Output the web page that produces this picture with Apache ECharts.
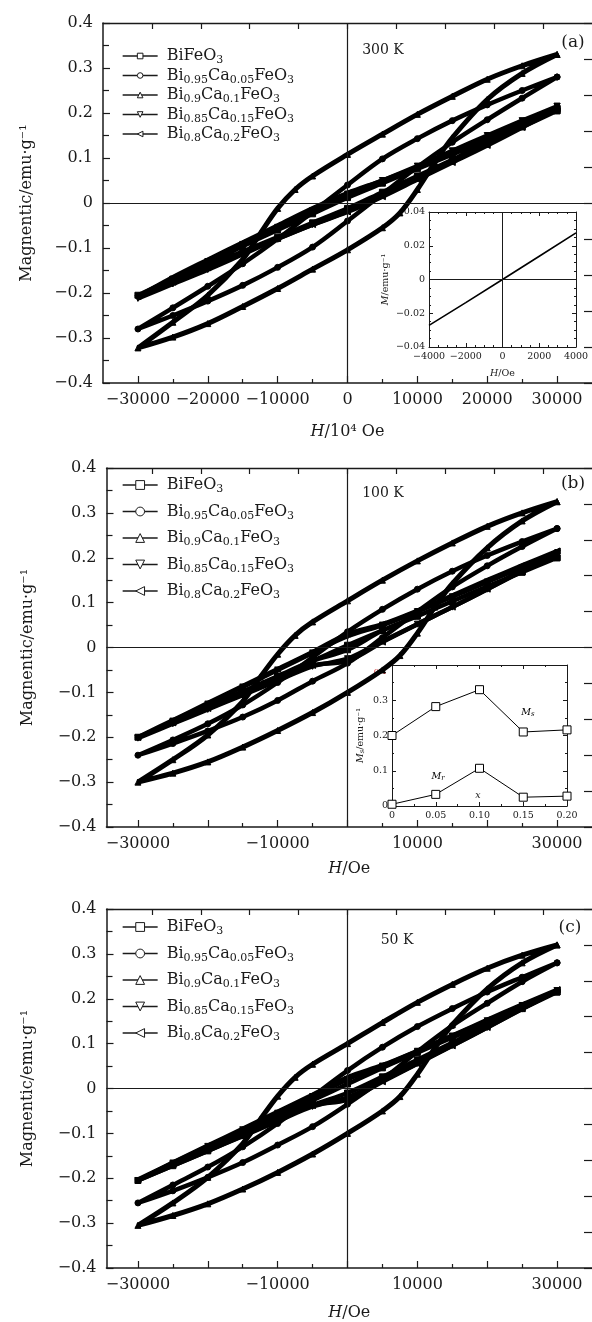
<!DOCTYPE html>
<html><head><meta charset="utf-8">
<script src="https://cdn.jsdelivr.net/npm/echarts@6/dist/echarts.min.js"></script>
<style>html,body{margin:0;padding:0;background:#fff}#c{width:592px;height:1322px}</style>
</head><body><div id="c"></div>
<script>
// ---------- field grids ----------
const H_STD_DOWN = [30000,25000,20000,15000,10000,5000,0,-5000,-10000,-15000,-20000,-25000,-30000];
const H_STD_UP   = [-30000,-25000,-20000,-15000,-10000,-5000,0,5000,10000,15000,20000,25000,30000];
const H_WIDE_DOWN = [30000,25000,20000,15000,10000,5000,0,-5000,-7500,-10000,-12500,-15000,-20000,-25000,-30000];
const H_WIDE_UP   = [-30000,-25000,-20000,-15000,-10000,-5000,0,5000,7500,10000,12500,15000,20000,25000,30000];

// ---------- panel (a) 300 K ----------
const A_BFO_DOWN = [0.205,0.173,0.141,0.108,0.076,0.044,0.012,-0.024,-0.060,-0.096,-0.133,-0.169,-0.205];
const A_BFO_UP   = [-0.205,-0.173,-0.141,-0.108,-0.076,-0.044,-0.012,0.024,0.060,0.096,0.133,0.169,0.205];
const A_C05_DOWN = [0.280,0.250,0.218,0.183,0.143,0.098,0.040,-0.020,-0.080,-0.135,-0.185,-0.233,-0.280];
const A_C05_UP   = [-0.280,-0.250,-0.218,-0.183,-0.143,-0.098,-0.040,0.020,0.080,0.135,0.185,0.233,0.280];
const A_C10_DOWN = [0.330,0.305,0.275,0.237,0.197,0.153,0.108,0.060,0.030,-0.012,-0.068,-0.125,-0.205,-0.265,-0.322];
const A_C10_UP   = [-0.322,-0.298,-0.268,-0.230,-0.190,-0.147,-0.104,-0.055,-0.022,0.030,0.090,0.145,0.230,0.288,0.330];
const A_C15_DOWN = [0.215,0.183,0.150,0.116,0.082,0.050,0.020,-0.017,-0.054,-0.092,-0.130,-0.170,-0.212];
const A_C15_UP   = [-0.212,-0.180,-0.148,-0.114,-0.080,-0.048,-0.018,0.017,0.054,0.092,0.130,0.172,0.215];
const A_C20_DOWN = [0.210,0.178,0.146,0.113,0.080,0.050,0.022,-0.012,-0.050,-0.088,-0.126,-0.165,-0.208];
const A_C20_UP   = [-0.208,-0.176,-0.144,-0.111,-0.079,-0.048,-0.020,0.014,0.052,0.090,0.128,0.168,0.210];

// ---------- panel (b) 100 K ----------
const B_BFO_DOWN = [0.200,0.168,0.136,0.103,0.070,0.038,0.005,-0.030,-0.064,-0.098,-0.132,-0.166,-0.200];
const B_BFO_UP   = [-0.200,-0.166,-0.132,-0.098,-0.064,-0.030,-0.005,0.038,0.070,0.103,0.136,0.168,0.200];
const B_C05_DOWN = [0.265,0.236,0.205,0.170,0.130,0.085,0.035,-0.022,-0.078,-0.128,-0.170,-0.206,-0.240];
const B_C05_UP   = [-0.240,-0.214,-0.186,-0.155,-0.118,-0.075,-0.035,0.022,0.080,0.135,0.182,0.225,0.265];
const B_C10_DOWN = [0.325,0.300,0.270,0.233,0.193,0.150,0.104,0.057,0.027,-0.015,-0.066,-0.120,-0.195,-0.250,-0.300];
const B_C10_UP   = [-0.300,-0.280,-0.255,-0.222,-0.185,-0.145,-0.100,-0.050,-0.018,0.032,0.090,0.142,0.222,0.282,0.325];
const B_C15_DOWN = [0.210,0.178,0.146,0.113,0.080,0.050,0.025,-0.012,-0.050,-0.088,-0.126,-0.164,-0.202];
const B_C15_UP   = [-0.202,-0.170,-0.138,-0.106,-0.074,-0.042,-0.025,0.014,0.052,0.090,0.130,0.170,0.210];
const B_C20_DOWN = [0.215,0.183,0.150,0.116,0.082,0.052,0.030,-0.010,-0.048,-0.086,-0.124,-0.162,-0.200];
const B_C20_UP   = [-0.200,-0.168,-0.136,-0.104,-0.072,-0.040,-0.030,0.012,0.052,0.090,0.130,0.172,0.215];

// ---------- panel (c) 50 K ----------
const C_BFO_DOWN = [0.215,0.182,0.148,0.114,0.080,0.046,0.010,-0.026,-0.062,-0.098,-0.133,-0.169,-0.205];
const C_BFO_UP   = [-0.205,-0.172,-0.139,-0.105,-0.071,-0.037,-0.010,0.026,0.064,0.102,0.140,0.178,0.215];
const C_C05_DOWN = [0.280,0.248,0.215,0.178,0.138,0.092,0.040,-0.018,-0.078,-0.130,-0.175,-0.215,-0.255];
const C_C05_UP   = [-0.255,-0.228,-0.198,-0.165,-0.126,-0.085,-0.035,0.020,0.082,0.140,0.190,0.238,0.280];
const C_C10_DOWN = [0.320,0.297,0.268,0.232,0.192,0.147,0.100,0.054,0.025,-0.017,-0.069,-0.123,-0.198,-0.255,-0.305];
const C_C10_UP   = [-0.305,-0.283,-0.257,-0.224,-0.187,-0.146,-0.100,-0.050,-0.018,0.032,0.090,0.142,0.222,0.280,0.320];
const C_C15_DOWN = [0.218,0.185,0.151,0.117,0.083,0.050,0.020,-0.018,-0.055,-0.092,-0.129,-0.166,-0.205];
const C_C15_UP   = [-0.205,-0.172,-0.139,-0.106,-0.073,-0.040,-0.020,0.018,0.056,0.096,0.136,0.177,0.218];
const C_C20_DOWN = [0.220,0.187,0.153,0.118,0.084,0.052,0.025,-0.014,-0.052,-0.090,-0.127,-0.165,-0.203];
const C_C20_UP   = [-0.203,-0.170,-0.137,-0.104,-0.071,-0.038,-0.025,0.015,0.055,0.095,0.136,0.178,0.220];

// ---------- insets ----------
const INSET_A_H = [-4000,-2000,0,2000,4000];
const INSET_A_M = [-0.0272,-0.0137,0,0.0138,0.0276];
const INSET_B_X  = [0,0.05,0.10,0.15,0.20];
const INSET_B_MS = [0.200,0.282,0.330,0.210,0.216];
const INSET_B_MR = [0.005,0.033,0.107,0.025,0.028];

// ---------- labels ----------
const SAMPLE_NAMES = ['BiFeO3','Bi0.95Ca0.05FeO3','Bi0.9Ca0.1FeO3','Bi0.85Ca0.15FeO3','Bi0.8Ca0.2FeO3'];
const PANEL_TAGS = ['(a)','(b)','(c)'];
const PANEL_TEMPS = ['300 K','100 K','50 K'];
const MAIN_X_LABELS = [[-30000,-20000,-10000,0,10000,20000,30000],[-30000,-10000,10000,30000],[-30000,-10000,10000,30000]];
const MAIN_X_MAJOR = [-30000,-20000,-10000,0,10000,20000,30000];
const MAIN_X_MINOR = [-25000,-15000,-5000,5000,15000,25000];
const TOP_X_TICKS = [-28000,-21000,-14000,-7000,0,7000,14000,21000,28000];

const SERIF = 'DejaVu Serif';
const INK = '#1a1a1a';
const SYMBOLS = ['rect','circle','triangle','triangle','triangle'];
const ROTS = [0,0,0,180,90];

const PANELS = [
  {key:'a', data:[[A_BFO_DOWN,A_BFO_UP],[A_C05_DOWN,A_C05_UP],[A_C10_DOWN,A_C10_UP],[A_C15_DOWN,A_C15_UP],[A_C20_DOWN,A_C20_UP]],
   grid:{left:103,top:23,width:490,height:360}, xmin:-35000, xname:'{i|H}{r|/10⁴ Oe}', legTop:48, legGap:1.5, legH:7, nameGap:41, yGap:68,
   tag:[573,43], temp:[383,50]},
  {key:'b', data:[[B_BFO_DOWN,B_BFO_UP],[B_C05_DOWN,B_C05_UP],[B_C10_DOWN,B_C10_UP],[B_C15_DOWN,B_C15_UP],[B_C20_DOWN,B_C20_UP]],
   grid:{left:106.5,top:468,width:486.5,height:359}, xmin:-34500, xname:'{i|H}{r|/Oe}', legTop:477, legGap:8.5, legH:11, nameGap:34, yGap:71,
   tag:[573,484], temp:[383,493]},
  {key:'c', data:[[C_BFO_DOWN,C_BFO_UP],[C_C05_DOWN,C_C05_UP],[C_C10_DOWN,C_C10_UP],[C_C15_DOWN,C_C15_UP],[C_C20_DOWN,C_C20_UP]],
   grid:{left:106.5,top:909,width:486.5,height:364}, xmin:-34500, xname:'{i|H}{r|/Oe}', legTop:919, legGap:8.5, legH:11, nameGap:37, yGap:71,
   tag:[570,928], temp:[397,940]}
];

function toRich(s){ return s.replace(/([A-Za-z]+)([0-9.]+)/g,'{r|$1}{s|$2}'); }
function fmtSigned(v, d){ if (Math.abs(v) < 1e-9) return '0'; const t = d==null ? String(Math.abs(v)) : Math.abs(v).toFixed(d); return v<0 ? '−'+t : t; }
function pairs(hs, ms){ return hs.map((h,i)=>[h, ms[i]]); }

const richLegend = {
  r:{fontFamily:SERIF,fontSize:16,color:INK,lineHeight:20,verticalAlign:'middle'},
  s:{fontFamily:SERIF,fontSize:11,color:INK,lineHeight:12,verticalAlign:'bottom'}
};
const richName = {
  i:{fontFamily:SERIF,fontSize:16,fontStyle:'italic',color:INK},
  r:{fontFamily:SERIF,fontSize:16,color:INK}
};

const grids=[], xAxes=[], yAxes=[], series=[], legends=[], graphics=[];

PANELS.forEach((p, pi) => {
  grids.push(p.grid);
  const gi = pi;
  const xmax = 35000;
  xAxes.push({type:'value', gridIndex:gi, position:'bottom', min:p.xmin, max:xmax,
    axisLine:{show:true, onZero:false, lineStyle:{color:INK,width:1.6}},
    axisTick:{show:true, inside:true, length:7, customValues:MAIN_X_MAJOR, lineStyle:{color:INK,width:1.2}},
    axisLabel:{show:true, customValues:MAIN_X_LABELS[pi], formatter:v=>fmtSigned(v), fontFamily:SERIF, fontSize:16, color:INK, margin:9},
    splitLine:{show:false},
    name:p.xname, nameLocation:'middle', nameGap:p.nameGap, nameTextStyle:{rich:richName}});
  xAxes.push({type:'value', gridIndex:gi, position:'bottom', min:p.xmin, max:xmax,
    axisLine:{show:false, onZero:false}, axisLabel:{show:false}, splitLine:{show:false},
    axisTick:{show:true, inside:true, length:4, customValues:MAIN_X_MINOR, lineStyle:{color:INK,width:1.2}}});
  xAxes.push({type:'value', gridIndex:gi, position:'top', min:p.xmin, max:xmax,
    axisLine:{show:true, onZero:false, lineStyle:{color:INK,width:1.3}}, axisLabel:{show:false}, splitLine:{show:false},
    axisTick:{show:true, inside:true, length:6, customValues:TOP_X_TICKS, lineStyle:{color:INK,width:1.2}}});
  yAxes.push({type:'value', gridIndex:gi, position:'left', min:-0.4, max:0.4, interval:0.1,
    axisLine:{show:true, onZero:false, lineStyle:{color:INK,width:1.5}},
    axisTick:{show:true, inside:true, length:7, lineStyle:{color:INK,width:1.2}},
    minorTick:{show:true, splitNumber:2, length:6, lineStyle:{color:INK,width:1.2}},
    axisLabel:{formatter:v=>fmtSigned(v,1), fontFamily:SERIF, fontSize:16, color:INK, margin:10},
    splitLine:{show:false},
    name:'Magnentic/emu·g⁻¹', nameLocation:'middle', nameGap:p.yGap, nameRotate:90,
    nameTextStyle:{fontFamily:SERIF, fontSize:16, color:INK}});
  yAxes.push({type:'value', gridIndex:gi, position:'right', min:-0.4, max:0.4, interval:0.08,
    axisLine:{show:false, onZero:false}, axisLabel:{show:false}, splitLine:{show:false},
    axisTick:{show:true, inside:true, length:8, lineStyle:{color:INK,width:1.2}}});

  const xi = pi*3, yi = pi*2;
  p.data.forEach((pair, si) => {
    const wide = si === 2;
    const hd = wide ? H_WIDE_DOWN : H_STD_DOWN;
    const hu = wide ? H_WIDE_UP : H_STD_UP;
    const pts = pairs(hd, pair[0]).concat(pairs(hu, pair[1]).slice(1));
    const s = {type:'line', name:p.key+si, xAxisIndex:xi, yAxisIndex:yi, data:pts,
      smooth:0.35, symbol:SYMBOLS[si], symbolRotate:ROTS[si], symbolSize:6, showAllSymbol:true,
      lineStyle:{color:'#000', width:wide?5:4.5}, itemStyle:{color:'#000', borderColor:'#000', borderWidth:1},
      animation:false, silent:true, z:3};
    if (si === 0) {
      s.markLine = {silent:true, symbol:['none','none'], label:{show:false}, animation:false,
        lineStyle:{color:INK, width:1.2, type:'solid'}, data:[{xAxis:0},{yAxis:0}]};
    }
    series.push(s);
  });

  legends.push({orient:'vertical', left:122, top:p.legTop, padding:0, itemGap:p.legGap,
    itemWidth:35, itemHeight:p.legH, selectedMode:false,
    data:SAMPLE_NAMES.map((n,si)=>({name:p.key+si})),
    formatter:name=>toRich(SAMPLE_NAMES[+name.slice(1)]),
    lineStyle:{color:INK, width:1.3},
    itemStyle:{color:'#fff', borderColor:INK, borderWidth:1},
    textStyle:{rich:richLegend, padding:[0,0,0,4]}});

  graphics.push({type:'text', x:p.tag[0], y:p.tag[1], style:{text:PANEL_TAGS[pi], font:'17px "DejaVu Serif"', fill:INK, textAlign:'center', textVerticalAlign:'middle'}});
  graphics.push({type:'text', x:p.temp[0], y:p.temp[1], style:{text:PANEL_TEMPS[pi], font:'14px "DejaVu Serif"', fill:INK, textAlign:'center', textVerticalAlign:'middle'}});
});

// ---------- inset (a) ----------
grids.push({left:429, top:212, width:147, height:135, show:true, backgroundColor:'#fff', borderWidth:0});
const richSmall = {
  i:{fontFamily:SERIF,fontSize:9.5,fontStyle:'italic',color:INK},
  r:{fontFamily:SERIF,fontSize:9.5,color:INK},
  s:{fontFamily:SERIF,fontSize:7,fontStyle:'italic',color:INK,verticalAlign:'bottom',lineHeight:8}
};
const giA = 3, giB = 4;
const smallTick = {inside:true,length:4,lineStyle:{color:INK}};
xAxes.push({type:'value', gridIndex:giA, position:'bottom', min:-4000, max:4000, interval:2000,
  axisLine:{show:true,onZero:false,lineStyle:{color:INK,width:1}}, axisTick:smallTick,
  minorTick:{show:true,splitNumber:4,length:2,lineStyle:{color:INK}},
  axisLabel:{formatter:v=>fmtSigned(v), fontFamily:SERIF, fontSize:9.5, color:INK, margin:5}, splitLine:{show:false},
  name:'{i|H}{r|/Oe}', nameLocation:'middle', nameGap:22, nameTextStyle:{rich:richSmall}});
xAxes.push({type:'value', gridIndex:giA, position:'top', min:-4000, max:4000, interval:2000,
  axisLine:{show:true,onZero:false,lineStyle:{color:INK,width:1}}, axisTick:smallTick,
  minorTick:{show:true,splitNumber:4,length:2,lineStyle:{color:INK}}, axisLabel:{show:false}, splitLine:{show:false}});
yAxes.push({type:'value', gridIndex:giA, position:'left', min:-0.04, max:0.04, interval:0.02,
  axisLine:{show:true,onZero:false,lineStyle:{color:INK,width:1}}, axisTick:smallTick,
  minorTick:{show:true,splitNumber:4,length:2,lineStyle:{color:INK}},
  axisLabel:{formatter:v=>fmtSigned(v,2), fontFamily:SERIF, fontSize:9.5, color:INK, margin:4}, splitLine:{show:false},
  name:'{i|M}{r|/emu·g⁻¹}', nameLocation:'middle', nameGap:38, nameRotate:90, nameTextStyle:{rich:richSmall}});
yAxes.push({type:'value', gridIndex:giA, position:'right', min:-0.04, max:0.04, interval:0.02,
  axisLine:{show:true,onZero:false,lineStyle:{color:INK,width:1}}, axisTick:smallTick,
  minorTick:{show:true,splitNumber:4,length:2,lineStyle:{color:INK}}, axisLabel:{show:false}, splitLine:{show:false}});
series.push({type:'line', xAxisIndex:9, yAxisIndex:6, data:pairs(INSET_A_H, INSET_A_M), symbol:'none',
  lineStyle:{color:'#000',width:1.6}, animation:false, silent:true, z:4,
  markLine:{silent:true, symbol:['none','none'], label:{show:false}, animation:false,
    lineStyle:{color:INK,width:1,type:'solid'}, data:[{xAxis:0},{yAxis:0}]}});

// ---------- inset (b) ----------
grids.push({left:392, top:665, width:175, height:141, show:true, backgroundColor:'#fff', borderWidth:0});
xAxes.push({type:'value', gridIndex:giB, position:'bottom', min:0, max:0.2, interval:0.05,
  axisLine:{show:true,onZero:false,lineStyle:{color:INK,width:1}}, axisTick:smallTick,
  minorTick:{show:true,splitNumber:2,length:2,lineStyle:{color:INK}},
  axisLabel:{formatter:v=>Math.abs(v)<1e-9?'0':v.toFixed(2), fontFamily:SERIF, fontSize:9.5, color:INK, margin:5}, splitLine:{show:false}});
xAxes.push({type:'value', gridIndex:giB, position:'top', min:0, max:0.2, interval:0.05,
  axisLine:{show:true,onZero:false,lineStyle:{color:INK,width:1}}, axisTick:smallTick,
  minorTick:{show:true,splitNumber:2,length:2,lineStyle:{color:INK}}, axisLabel:{show:false}, splitLine:{show:false}});
yAxes.push({type:'value', gridIndex:giB, position:'left', min:0, max:0.4, interval:0.1,
  axisLine:{show:true,onZero:false,lineStyle:{color:INK,width:1}}, axisTick:smallTick,
  minorTick:{show:true,splitNumber:2,length:2,lineStyle:{color:INK}},
  axisLabel:{formatter:v=>Math.abs(v)<1e-9?'0':(v>0.35?'':v.toFixed(1)), fontFamily:SERIF, fontSize:9.5, color:INK, margin:4}, splitLine:{show:false},
  name:'{i|M}{s|s}{r|/emu·g⁻¹}', nameLocation:'middle', nameGap:26, nameRotate:90, nameTextStyle:{rich:richSmall}});
yAxes.push({type:'value', gridIndex:giB, position:'right', min:0, max:0.4, interval:0.1,
  axisLine:{show:true,onZero:false,lineStyle:{color:INK,width:1}}, axisTick:smallTick,
  minorTick:{show:true,splitNumber:2,length:2,lineStyle:{color:INK}}, axisLabel:{show:false}, splitLine:{show:false}});
[INSET_B_MS, INSET_B_MR].forEach(arr => series.push({type:'line', xAxisIndex:11, yAxisIndex:8, data:pairs(INSET_B_X, arr),
  symbol:'rect', symbolSize:8, lineStyle:{color:'#000',width:1}, itemStyle:{color:'#fff',borderColor:'#000',borderWidth:1},
  animation:false, silent:true, z:4, clip:false}));
graphics.push({type:'text', x:528, y:713, style:{rich:richSmall, text:'{i|M}{s|s}', textAlign:'center', textVerticalAlign:'middle'}});
graphics.push({type:'text', x:438, y:777, style:{rich:richSmall, text:'{i|M}{s|r}', textAlign:'center', textVerticalAlign:'middle'}});
graphics.push({type:'text', x:478, y:796, style:{text:'x', font:'italic 9.5px "DejaVu Serif"', fill:INK, textAlign:'center', textVerticalAlign:'middle'}});
graphics.push({type:'text', x:380, y:672, style:{text:'0.4', font:'8px "DejaVu Serif"', fill:'#d03030', textAlign:'center', textVerticalAlign:'middle'}});

const chart = echarts.init(document.getElementById('c'), null, {renderer:'canvas'});
chart.setOption({backgroundColor:'#fff', animation:false, grid:grids, xAxis:xAxes, yAxis:yAxes, series:series, legend:legends, graphic:graphics});
</script></body></html>
